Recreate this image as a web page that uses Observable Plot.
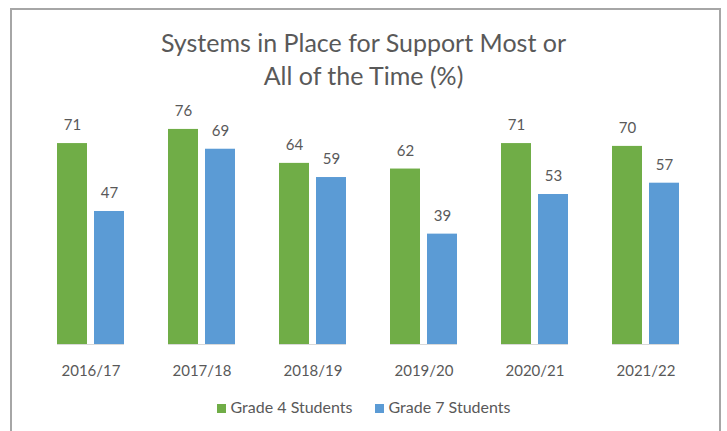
<!DOCTYPE html>
<html><head><meta charset="utf-8">
<script src="https://cdn.jsdelivr.net/npm/d3@7"></script>
<script src="https://cdn.jsdelivr.net/npm/@observablehq/plot@0.6"></script>
<style>
body{margin:0;background:#fff;font-family:Lato,"Open Sans",sans-serif;color:#595959;}
#frame{position:absolute;left:10px;top:8px;width:707px;height:440px;border:2px solid #a6a6a6;}
#title{position:absolute;left:0;top:26px;width:727px;text-align:center;font-size:25px;line-height:33px;color:#595959;}
#chart{position:absolute;left:0;top:0;}
#legend{position:absolute;left:0;top:397px;width:727px;text-align:center;font-size:16px;color:#595959;}
#legend span.sw{display:inline-block;width:9px;height:9px;margin-right:5px;vertical-align:0px;}
#legend span.it{margin:0 11px;}
</style></head><body>
<div id="frame"></div>
<div id="chart"></div>
<div id="title">Systems in Place for Support Most or<br>All of the Time (%)</div>
<div id="legend"></div>
<script>
const years = ["2016/17","2017/18","2018/19","2019/20","2020/21","2021/22"];
const series = ["Grade 4 Students","Grade 7 Students"];
const grade4 = [71,76,64,62,71,70];
const grade7 = [47,69,59,39,53,57];
const colors = ["#70AD47","#5B9BD5"];

const data = [];
years.forEach((y,i)=>{
  data.push({year:y, series:series[0], value:grade4[i]});
  data.push({year:y, series:series[1], value:grade7[i]});
});

const chart = Plot.plot({
  width:727, height:390,
  marginLeft:33, marginRight:24, marginTop:61, marginBottom:46,
  style:{fontFamily:"Lato, 'Open Sans', sans-serif", fontSize:"15px", color:"#595959", background:"transparent"},
  fx:{domain:years, paddingInner:0.4, paddingOuter:0.2, label:null, axis:null},
  x:{domain:series, paddingInner:0.2, paddingOuter:0, axis:null},
  y:{domain:[0,100], axis:null},
  color:{domain:series, range:colors},
  marks:[
    Plot.barY(data,{fx:"year", x:"series", y:"value", fill:"series"}),
    Plot.text(data,{fx:"year", x:"series", y:"value", text:d=>String(d.value), dy:-18, fill:"#595959", fontSize:15}),
    Plot.ruleY([0],{stroke:"#d9d9d9", strokeWidth:1}),
    Plot.axisFx({anchor:"bottom", tickSize:0, tickPadding:21, fontSize:15, label:null})
  ]
});
document.getElementById("chart").appendChild(chart);

const leg = document.getElementById("legend");
series.forEach((s,i)=>{
  const it = document.createElement("span");
  it.className="it";
  const sw = document.createElement("span");
  sw.className="sw"; sw.style.background=colors[i];
  it.appendChild(sw);
  it.appendChild(document.createTextNode(s));
  leg.appendChild(it);
});
</script>
</body></html>
